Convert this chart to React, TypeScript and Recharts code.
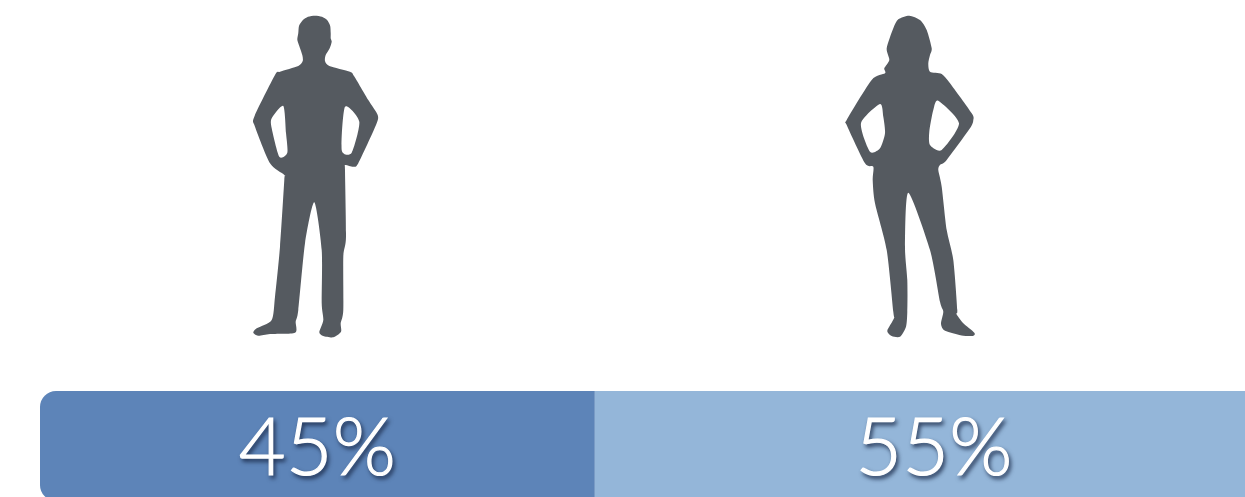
import { BarChart, Bar, XAxis, YAxis, LabelList } from "recharts";

const categories = ["Population"];
const menShare = [45];
const womenShare = [55];

const chartData = categories.map((name, i) => ({
  name,
  men: menShare[i],
  women: womenShare[i],
}));

// silhouettes, page coordinates
const manBody =
  "315,15.7 322,16.8 327.3,20.3 330.2,26 330.7,33 330.7,38.3 331.7,41.7 329.7,48.3 325.7,55 325,61 329.3,66 350,71.7 354,76 368.3,100 377.7,115 376,125 358.3,163.3 353.3,166.7 345,165 345,170 346,236.7 343.3,256.7 343.3,310 340.7,323.3 341,331.7 333.3,337.3 323.3,336 319.3,332.3 323.3,320 321.7,303.3 321.7,250 314.3,202.3 305,243.3 298.3,310 295.7,321.7 295,332.7 270,334 258.3,335.7 253.3,332.7 256.7,328.3 271.7,320 275,296.7 280,246.7 284.3,180 284.3,175 270,163.3 255,126.7 254.3,116.7 275,75 280,71.7 298.3,66 302.7,61 302.3,55 298.3,43.3 297.3,39.3 298.3,33 299,26 302.7,20.3 308,16.8";
const manHoles = [
  "345,106.7 359.3,121.7 351.7,152.7 341.7,150",
  "283.3,106 271.7,118.3 271.7,128.3 279.3,156.7 287.3,152.7 286,133",
];
const womanBody =
  "909.3,15.7 920,20 926.7,30 931.7,48.3 930,55 928.3,63.3 930,71.7 941.7,74 950,83.3 971.7,113.3 973.3,120 970,128.3 946.7,160 940,165 938.3,170 941.7,186.7 946.7,230 953.3,260 957.3,310 956,313.3 963.3,323.3 974.3,332.7 973.3,335.7 963.3,335.7 945,330.7 941,324 943.3,311.7 940,301.7 930,250 908.3,192.7 905,246.7 907.3,280 907.3,311.7 906,326.7 900,336.7 891.7,336 887.3,330.7 894,318.3 893.3,311.7 886.7,250 875,203.3 872.7,180 873.3,166.7 865,163.3 846.7,125 846.7,120 871.7,80 885,73.3 884.3,68.3 889.3,60 886.7,48.3 893.3,28.3 898.3,19.3";
const womanHoles = [
  "938.3,100.7 959,123.3 941.7,150 930,145 929.3,131.7 933.3,110",
  "880,104 861,123.3 870,151.7 880,148.3 885,133.3 883.3,116.7",
];

const iconColor = "#555a60";

// closed curve through the traced points
function smoothPath(points: string, k = 0.12) {
  const pts = points.split(" ").map((p) => p.split(",").map(Number));
  const n = pts.length;
  let d = `M${pts[0][0]},${pts[0][1]}`;
  for (let i = 0; i < n; i++) {
    const p0 = pts[(i - 1 + n) % n];
    const p1 = pts[i];
    const p2 = pts[(i + 1) % n];
    const p3 = pts[(i + 2) % n];
    const c1x = p1[0] + (p2[0] - p0[0]) * k;
    const c1y = p1[1] + (p2[1] - p0[1]) * k;
    const c2x = p2[0] - (p3[0] - p1[0]) * k;
    const c2y = p2[1] - (p3[1] - p1[1]) * k;
    d += ` C${c1x.toFixed(1)},${c1y.toFixed(1)} ${c2x.toFixed(1)},${c2y.toFixed(1)} ${p2[0]},${p2[1]}`;
  }
  return d + "Z";
}

function Silhouette({ body, holes }: { body: string; holes: string[] }) {
  const d = [smoothPath(body), ...holes.map((h) => smoothPath(h))].join(" ");
  return <path d={d} fill={iconColor} fillRule="evenodd" />;
}

const labelStyle = {
  fontFamily: "Lato, sans-serif",
  fontWeight: 300,
  fontSize: 81,
  stroke: "#fff",
  strokeWidth: 1.2,
  filter: "drop-shadow(2px 3px 2px rgba(25,40,70,0.85))",
};

export default function App() {
  return (
    <div
      style={{
        position: "absolute",
        left: 0,
        top: 0,
        width: 1245,
        height: 497,
        overflow: "hidden",
        background: "#fff",
      }}
    >
      <svg width={1245} height={497} style={{ position: "absolute", left: 0, top: 0 }}>
        <Silhouette body={manBody} holes={manHoles} />
        <Silhouette body={womanBody} holes={womanHoles} />
      </svg>
      {/* bar runs past the right edge of the page, like the original crop */}
      <div style={{ position: "absolute", left: 0, top: 0 }}>
        <BarChart
          width={1285}
          height={501}
          data={chartData}
          layout="vertical"
          barCategoryGap={0}
          margin={{ top: 391, right: 12, bottom: 0, left: 40 }}
        >
          <XAxis type="number" domain={[0, 100]} hide />
          <YAxis type="category" dataKey="name" hide />
          <Bar dataKey="men" stackId="a" fill="#5d84b8" radius={[16, 0, 0, 16]} isAnimationActive={false}>
            <LabelList dataKey="men" position="center" fill="#fff" formatter={(v: number) => `${v}%`} style={labelStyle} />
          </Bar>
          <Bar dataKey="women" stackId="a" fill="#94b6d9" isAnimationActive={false}>
            <LabelList dataKey="women" position="center" fill="#fff" formatter={(v: number) => `${v}%`} style={labelStyle} />
          </Bar>
        </BarChart>
      </div>
    </div>
  );
}
